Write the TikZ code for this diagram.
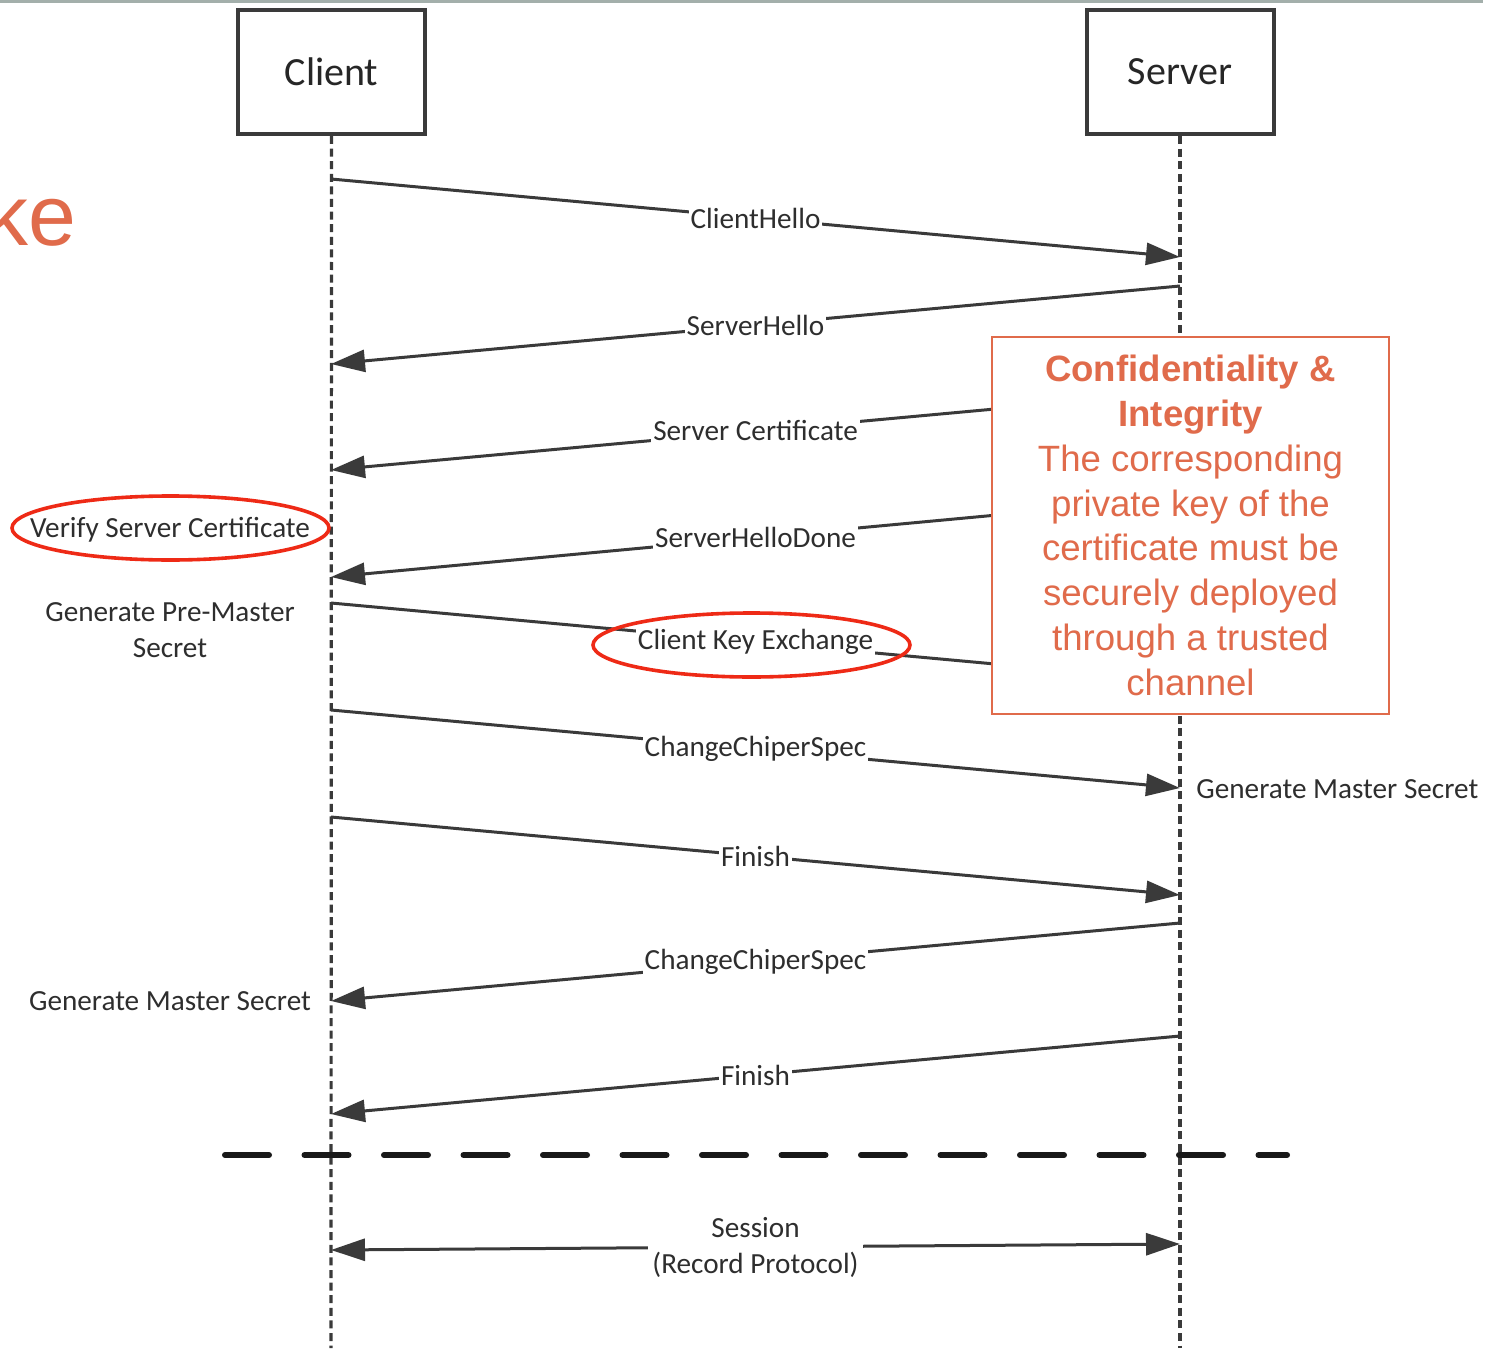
\documentclass[tikz,border=0pt]{standalone}
\usepackage{fontspec}
\setmainfont{Carlito}
\newfontfamily\arialf{Liberation Sans}
\usetikzlibrary{arrows.meta,shapes.geometric,shadows}
\definecolor{ln}{HTML}{3A3A3A}
\definecolor{tx}{HTML}{2E2E2E}
\definecolor{org}{HTML}{E06B4B}
\definecolor{ered}{HTML}{EE2A16}
\definecolor{topbar}{HTML}{A3AFAB}
\begin{document}
\begin{tikzpicture}[x=0.5pt,y=-0.5pt,
  actor/.style={draw=ln, line width=2pt, fill=white, minimum width=93.5pt, minimum height=62pt,
    font=\fontsize{20}{24}\selectfont, text=black!85,
    drop shadow={shadow xshift=1.2pt,shadow yshift=-1.2pt,opacity=0.25}},
  life/.style={draw=ln, line width=1.6pt, dash pattern=on 4pt off 2.3pt},
  msg/.style={draw=ln, line width=1.5pt, -{Triangle[length=17pt,width=11pt]}},
  bimsg/.style={draw=ln, line width=1.5pt, {Triangle[length=17pt,width=11pt]}-{Triangle[length=17pt,width=11pt]}},
  lbl/.style={fill=white, inner sep=1pt, text=tx, font=\fontsize{14.6}{18}\selectfont},
  note/.style={text=tx, font=\fontsize{14.6}{18}\selectfont, align=center, inner sep=0pt},
  ring/.style={draw=ered, line width=1.8pt, ellipse, minimum width=158.5pt, minimum height=32pt, inner sep=0pt},
  sep/.style={draw=black!90, line width=3pt, dash pattern=on 22pt off 17.75pt, line cap=round}
]
\useasboundingbox (0,0) rectangle (1503,1348);
\fill[topbar] (0,0) rectangle (1483,3);

% title fragment (cut off at the left edge, as in the reference)
\node[anchor=base east, inner sep=0pt, text=org, font=\arialf\fontsize{43}{50}\selectfont] (ke) at (77,246) {ke};

% actors
\node[actor] (client) at (331.5,72) {Client};
\node[actor] (server) at (1180,72) {Server};
\coordinate (cend) at (331,1348);
\coordinate (send) at (1180,1348);
\draw[life] (client.south) -- (cend);
\draw[life] (server.south) -- (send);

% message anchor points
\coordinate (c1) at (331,179);  \coordinate (s1) at (1180,257);
\coordinate (s2) at (1180,286); \coordinate (c2) at (331,364);
\coordinate (s3) at (1180,392); \coordinate (c3) at (331,470);
\coordinate (s4) at (1180,498); \coordinate (c4) at (331,577);
\coordinate (c5) at (331,603);  \coordinate (s5) at (1180,681);
\coordinate (c6) at (331,710);  \coordinate (s6) at (1180,788);
\coordinate (c7) at (331,817);  \coordinate (s7) at (1180,895);
\coordinate (s8) at (1180,923); \coordinate (c8) at (331,1001);
\coordinate (s9) at (1180,1036);\coordinate (c9) at (331,1114);
\coordinate (c10) at (331,1250); \coordinate (s10) at (1180,1244);

\draw[msg] (c1) -- node[lbl] (m1) {ClientHello} (s1);
\draw[msg] (s2) -- node[lbl] (m2) {ServerHello} (c2);
\draw[msg] (s3) -- node[lbl] (m3) {Server Certificate} (c3);
\draw[msg] (s4) -- node[lbl] (m4) {ServerHelloDone} (c4);
\draw[msg] (c5) -- node[lbl] (m5) {Client Key Exchange} (s5);
\draw[msg] (c6) -- node[lbl] (m6) {ChangeChiperSpec} (s6);
\draw[msg] (c7) -- node[lbl] (m7) {Finish} (s7);
\draw[msg] (s8) -- node[lbl] (m8) {ChangeChiperSpec} (c8);
\draw[msg] (s9) -- node[lbl] (m9) {Finish} (c9);
\draw[bimsg] (c10) -- node[lbl, align=center, inner xsep=2pt] (m10) {Session\\(Record Protocol)} (s10);

% separator
\coordinate (dl) at (225,1155);
\coordinate (dr) at (1287,1155);
\draw[sep] (dl) -- (dr);

% side notes
\node[note] (vsc) at (170,530) {Verify Server Certificate};
\node[note] (gpm) at (170,630) {Generate Pre-Master\\Secret};
\node[note] (gmsc) at (170,1001) {Generate Master Secret};
\node[note, anchor=west] (gmss) at (1196,789) {Generate Master Secret};

% highlight rings
\node[ring] (ring1) at (170.5,528) {};
\node[ring] (ring2) at (751.5,645) {};

% note box
\node[draw=org, line width=1pt, fill=white, minimum width=198.5pt, minimum height=188.5pt,
  text=org, align=center, font=\arialf\fontsize{18.3}{22.4}\selectfont] (cibox) at (1190.5,525.5)
  {\textbf{Confidentiality \&}\\\textbf{Integrity}\\The corresponding\\private key of the\\certificate must be\\securely deployed\\through a trusted\\channel};
\end{tikzpicture}
\end{document}
